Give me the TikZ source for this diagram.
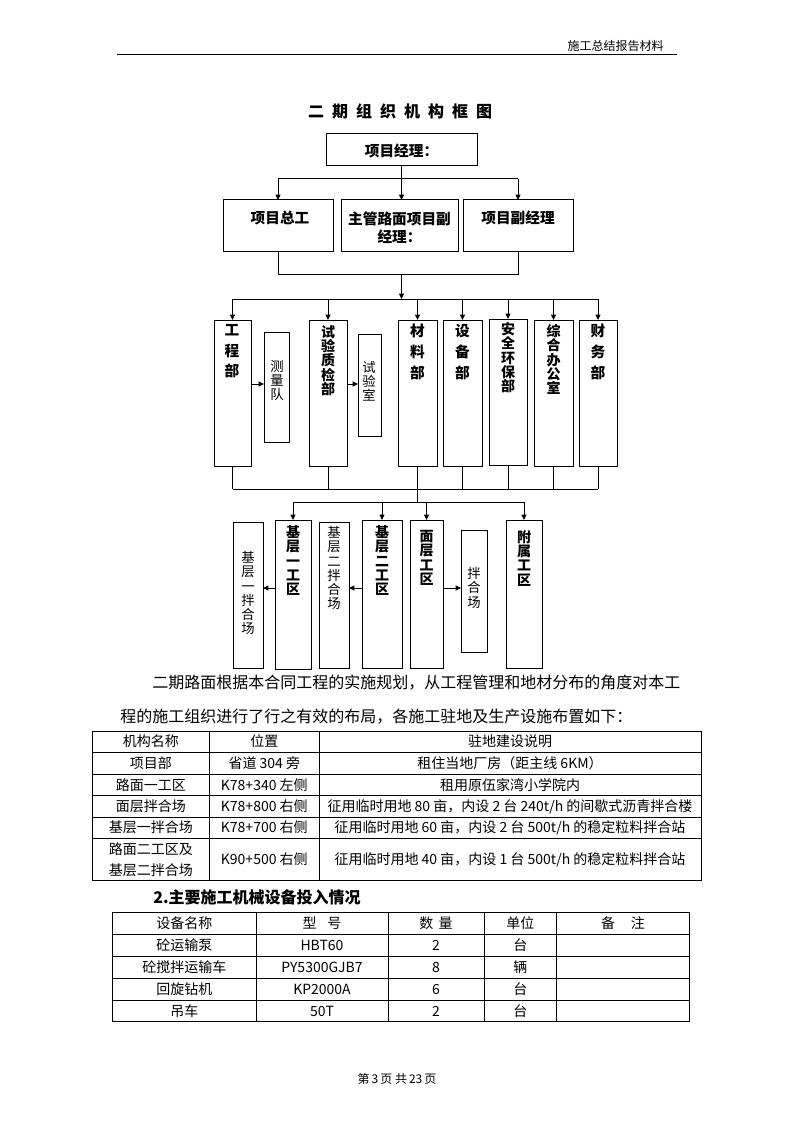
\documentclass[tikz,border=0pt]{standalone}
\usepackage{fontspec}
\setmainfont{Noto Sans CJK SC}
\usetikzlibrary{arrows.meta,fit}
\newcommand\mkbox[5]{\node[bx, fit={(#2,#3) (#4,#5)}] (#1) {};}
\begin{document}
\begin{tikzpicture}[x=0.75pt,y=-0.75pt,
  bx/.style={draw, line width=0.75pt, inner sep=0pt, outer sep=0pt},
  ln/.style={line width=0.75pt},
  arr/.style={line width=0.75pt, -{Triangle[length=4pt,width=3.6pt]}},
  bt/.style={font=\bfseries\fontsize{11}{13.5}\selectfont, inner sep=0pt, align=center},
  vA/.style={font=\bfseries\fontsize{11}{15.5}\selectfont, inner sep=0pt, align=center, anchor=north},
  vB/.style={font=\bfseries\fontsize{10.5}{10.8}\selectfont, inner sep=0pt, align=center, anchor=north},
  vC/.style={font=\fontsize{10}{10.7}\selectfont, inner sep=0pt, align=center, anchor=north},
  tb/.style={font=\fontsize{10.5}{15.5}\selectfont, inner sep=0pt, align=center},
  para/.style={font=\fontsize{12}{14}\selectfont, inner sep=0pt, anchor=west},
]
\fill[white] (0,0) rectangle (794,1123);
\useasboundingbox (0,0) rectangle (794,1123);

% header
\node[font=\fontsize{9}{11}\selectfont, inner sep=0pt, anchor=east] (hdr) at (664,46) {施工总结报告材料};
\coordinate (hl1) at (117,55);
\coordinate (hl2) at (677,55);
\draw[ln] (hl1) -- (hl2);

% title
\node[font=\bfseries\fontsize{12}{14}\selectfont, inner sep=0pt] (title) at (400,111)
  {二\hspace{6pt}期\hspace{6pt}组\hspace{6pt}织\hspace{6pt}机\hspace{6pt}构\hspace{6pt}框\hspace{6pt}图};

% boxes
\mkbox{xmjl}{326}{134}{477}{166}
\mkbox{xmzg}{223}{200}{333}{251}
\mkbox{zgfj}{341}{200}{458}{251}
\mkbox{fjl}{463}{200}{573}{251}

\mkbox{gcb}{214}{320}{251}{466}
\mkbox{clq}{264}{332}{289}{442}
\mkbox{syzj}{309}{320}{347}{466}
\mkbox{sys}{358}{334}{381}{436}
\mkbox{clb}{398}{320}{437}{466}
\mkbox{sbb}{443}{320}{482}{466}
\mkbox{aqhb}{489}{319}{527}{465}
\mkbox{zhbgs}{534}{320}{573}{466}
\mkbox{cwb}{579}{320}{617}{466}

\mkbox{jcyb}{233}{522}{263}{668}
\mkbox{jcyg}{275}{520}{311}{669}
\mkbox{jceb}{319}{522}{349}{668}
\mkbox{jceg}{362}{520}{402}{668}
\mkbox{mcgq}{410}{520}{443}{668}
\mkbox{bhc}{461}{530}{487}{652}
\mkbox{fsgq}{506}{520}{542}{668}

% box texts
\node[bt] (t-xmjl) at (401.5,151) {项目经理：};
\node[bt] (t-xmzg) at (280,218) {项目总工};
\node[bt] (t-zgfj) at (399.5,228) {主管路面项目副\\经理：};
\node[bt] (t-fjl) at (518,218) {项目副经理};

\node[vA] (t-gcb) at (232,324) {工\\程\\部};
\node[vC] (t-clq) at (277,360) {测\\量\\队};
\node[vB] (t-syzj) at (328,325) {试\\验\\质\\检\\部};
\node[vC] (t-sys) at (369,361) {试\\验\\室};
\node[vA] (t-clb) at (417.5,324) {材\\料\\部};
\node[vA] (t-sbb) at (462.5,324) {设\\备\\部};
\node[vB] (t-aqhb) at (508,322) {安\\全\\环\\保\\部};
\node[vB] (t-zhbgs) at (553.5,324) {综\\合\\办\\公\\室};
\node[vA] (t-cwb) at (598,324) {财\\务\\部};

\node[vC] (t-jcyb) at (248,551) {基\\层\\一\\拌\\合\\场};
\node[vB] (t-jcyg) at (293,525) {基\\层\\一\\工\\区};
\node[vC] (t-jceb) at (334,526) {基\\层\\二\\拌\\合\\场};
\node[vB] (t-jceg) at (382,525) {基\\层\\二\\工\\区};
\node[vB] (t-mcgq) at (426.5,530) {面\\层\\工\\区};
\node[vC] (t-bhc) at (474,567) {拌\\合\\场};
\node[vB] (t-fsgq) at (524,530) {附\\属\\工\\区};

% connectors
\coordinate (h1) at (401.5,179);
\coordinate (h2) at (401.5,274);
\coordinate (h3) at (401.5,299);
\coordinate (h4) at (417.5,489);
\coordinate (h5) at (417.5,502);
\coordinate (r3) at (0,384);
\coordinate (r4) at (0,588);

\draw[arr] (xmjl.south) -- (xmjl.south|-zgfj.north);
\draw[ln] (xmzg.north|-h1) -- (fjl.north|-h1);
\draw[arr] (xmzg.north|-h1) -- (xmzg.north);
\draw[arr] (fjl.north|-h1) -- (fjl.north);

\draw[ln] (xmzg.south) -- (xmzg.south|-h2) -- (fjl.south|-h2) -- (fjl.south);
\draw[arr] (h2) -- (h3);
\draw[ln] (gcb.north|-h3) -- (cwb.north|-h3);
\foreach \n in {gcb,syzj,clb,sbb,aqhb,zhbgs,cwb}
  \draw[arr] (\n.north|-h3) -- (\n.north);
\draw[arr] (gcb.east|-r3) -- (clq.west|-r3);
\draw[arr] (syzj.east|-r3) -- (sys.west|-r3);

\foreach \n in {gcb,syzj,clb,sbb,aqhb,zhbgs,cwb}
  \draw[ln] (\n.south) -- (\n.south|-h4);
\draw[ln] (gcb.south|-h4) -- (cwb.south|-h4);
\draw[ln] (h4) -- (h5);
\draw[ln] (jcyg.north|-h5) -- (fsgq.north|-h5);
\foreach \n in {jcyg,jceg,mcgq,fsgq}
  \draw[arr] (\n.north|-h5) -- (\n.north);
\draw[arr] (jcyg.west|-r4) -- (jcyb.east|-r4);
\draw[arr] (jceg.west|-r4) -- (jceb.east|-r4);
\draw[arr] (mcgq.east|-r4) -- (bhc.west|-r4);

% paragraph
\node[para] (p1) at (152,683) {二期路面根据本合同工程的实施规划，从工程管理和地材分布的角度对本工};
\node[para] (p2) at (120,717) {程的施工组织进行了行之有效的布局，各施工驻地及生产设施布置如下：};

% table 1
\draw[ln] (92.3,731) rectangle (701,880.7);
\foreach \y in {752.3,774,795.7,817,838.3} \draw[ln] (92.3,\y) -- (701,\y);
\foreach \x in {209.3,319.3} \draw[ln] (\x,731) -- (\x,880.7);

\node[tb] (a11) at (150.8,741.5) {机构名称};
\node[tb] (a12) at (264.3,741.5) {位置};
\node[tb] (a13) at (510,741.5) {驻地建设说明};
\node[tb] (a21) at (150.8,763) {项目部};
\node[tb] (a22) at (264.3,763) {省道 304 旁};
\node[tb] (a23) at (510,763) {租住当地厂房（距主线 6KM）};
\node[tb] (a31) at (150.8,785) {路面一工区};
\node[tb] (a32) at (264.3,785) {K78+340 左侧};
\node[tb] (a33) at (510,785) {租用原伍家湾小学院内};
\node[tb] (a41) at (150.8,806.5) {面层拌合场};
\node[tb] (a42) at (264.3,806.5) {K78+800 右侧};
\node[tb] (a43) at (510,806.5) {征用临时用地 80 亩，内设 2 台 240t/h 的间歇式沥青拌合楼};
\node[tb] (a51) at (150.8,827.5) {基层一拌合场};
\node[tb] (a52) at (264.3,827.5) {K78+700 右侧};
\node[tb] (a53) at (510,827.5) {征用临时用地 60 亩，内设 2 台 500t/h 的稳定粒料拌合站};
\node[tb] (a61) at (150.8,859.5) {路面二工区及\\基层二拌合场};
\node[tb] (a62) at (264.3,859.5) {K90+500 右侧};
\node[tb] (a63) at (510,859.5) {征用临时用地 40 亩，内设 1 台 500t/h 的稳定粒料拌合站};

% section title
\node[para, font=\bfseries\fontsize{12}{14}\selectfont] (sec2) at (153,897) {2.主要施工机械设备投入情况};

% table 2
\draw[ln] (112.7,912.3) rectangle (689.3,1021.7);
\foreach \y in {934,956,978.3,1000} \draw[ln] (112.7,\y) -- (689.3,\y);
\foreach \x in {256,388,484,556.7} \draw[ln] (\x,912.3) -- (\x,1021.7);

\node[tb] (b11) at (184.4,923) {设备名称};
\node[tb] (b12) at (322,923) {型\hspace{8pt}号};
\node[tb] (b13) at (436,923) {数\hspace{4pt}量};
\node[tb] (b14) at (520.3,923) {单位};
\node[tb] (b15) at (623,923) {备\hspace{12pt}注};
\node[tb] (b21) at (184.4,945) {砼运输泵};
\node[tb] (b22) at (322,945) {HBT60};
\node[tb] (b23) at (436,945) {2};
\node[tb] (b24) at (520.3,945) {台};
\node[tb] (b31) at (184.4,967) {砼搅拌运输车};
\node[tb] (b32) at (322,967) {PY5300GJB7};
\node[tb] (b33) at (436,967) {8};
\node[tb] (b34) at (520.3,967) {辆};
\node[tb] (b41) at (184.4,989) {回旋钻机};
\node[tb] (b42) at (322,989) {KP2000A};
\node[tb] (b43) at (436,989) {6};
\node[tb] (b44) at (520.3,989) {台};
\node[tb] (b51) at (184.4,1011) {吊车};
\node[tb] (b52) at (322,1011) {50T};
\node[tb] (b53) at (436,1011) {2};
\node[tb] (b54) at (520.3,1011) {台};

% footer
\node[font=\fontsize{9}{11}\selectfont, inner sep=0pt] (ftr) at (397,1079) {第\,3\,页\ 共\,23\,页};
\end{tikzpicture}
\end{document}
